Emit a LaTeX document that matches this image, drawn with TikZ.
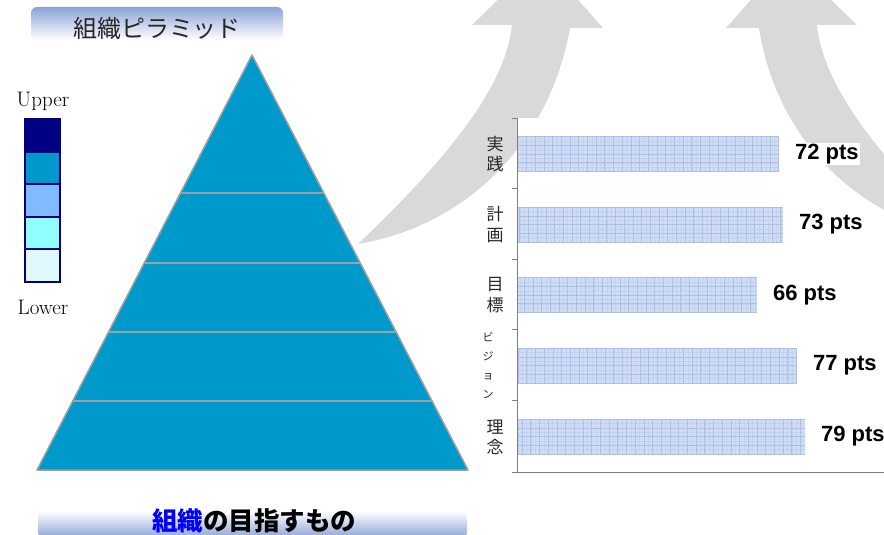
\documentclass[tikz,border=0pt]{standalone}
\usepackage{fontspec}
\newfontfamily\jp{Noto Sans CJK JP}
\newfontfamily\lab{Liberation Sans}
\definecolor{pyr}{RGB}{0,153,204}
\definecolor{pyrline}{RGB}{160,160,160}
\definecolor{agray}{RGB}{217,217,217}
\definecolor{navy}{RGB}{0,0,128}
\definecolor{lg2}{RGB}{128,187,255}
\definecolor{lg3}{RGB}{145,255,255}
\definecolor{lg4}{RGB}{224,248,255}
\definecolor{barfill}{RGB}{208,220,244}
\definecolor{barfine}{RGB}{194,208,240}
\definecolor{barline}{RGB}{170,192,234}
\definecolor{hdr}{RGB}{140,163,214}
\definecolor{axisc}{RGB}{128,128,128}
\begin{document}
\begin{tikzpicture}[x=1pt,y=-1pt,
  legbox/.style={draw=navy,line width=1.2pt},
  legtext/.style={font=\fontsize{21}{24}\selectfont},
  bar/.style={draw=none,fill=barfill,minimum height=35.5pt,inner sep=0pt,anchor=west,
    path picture={
      \draw[barfine,line width=0.25pt,densely dotted] (path picture bounding box.south west) grid[step=4.35pt] (path picture bounding box.north east);
      \draw[barline,line width=0.45pt] (path picture bounding box.south west) grid[step=8.7pt] (path picture bounding box.north east);}},
  cat/.style={font=\jp\fontsize{17}{20.5}\selectfont,align=center,inner sep=0pt,text=black!85},
  catsmall/.style={font=\jp\fontsize{11}{19}\selectfont,align=center,inner sep=0pt,text=black!85},
  val/.style={font=\lab\bfseries\fontsize{22}{24}\selectfont,fill=white,inner sep=1.5pt,anchor=west},
  axisline/.style={draw=axisc,line width=1pt}]
\useasboundingbox (0,0) rectangle (884,535);
\clip (0,0) rectangle (884,535);
% gray curved arrows
\fill[agray] (358,244) .. controls (430,175) and (505,95) .. (512,25) -- (472,25) -- (541,-42) -- (603,28) -- (570,28) .. controls (550,140) and (470,225) .. (358,244) -- cycle;
\fill[agray] (965,240) .. controls (895,172) and (824,95) .. (817,25) -- (857,25) -- (788,-42) -- (726,28) -- (759,28) .. controls (776,135) and (850,215) .. (965,240) -- cycle;
% white plot area
\fill[white] (517,118) rectangle (786,472);
% title box
\shade[top color=hdr,bottom color=white,rounded corners=6pt] (31,7) rectangle (283,40);
\node[font=\jp\fontsize{24}{28}\selectfont,text=black!85] (title) at (157,28) {組織ピラミッド};
% bottom box
\shade[top color=white,bottom color=hdr,rounded corners=6pt] (38,511) rectangle (467,538);
\node[font=\jp\bfseries\fontsize{25.5}{28}\selectfont] (goal) at (254,521) {\textcolor{blue}{組織}の目指すもの};
% pyramid
\fill[pyr] (252,55) -- (468,470) -- (37,470) -- cycle;
\foreach \yy in {193,263,332,401}{
  \pgfmathsetmacro{\dx}{0.52048*(\yy-55)}
  \draw[pyrline,line width=1.5pt] ({252-\dx},\yy) -- ({252+\dx},\yy);
}
\draw[pyrline,line width=1.5pt,line join=round] (252,55) -- (468,470) -- (37,470) -- cycle;
% legend
\node[legtext] (upper) at (43,101) {Upper};
\node[legtext] (lower) at (43,307) {Lower};
\draw[legbox,fill=navy] (25,119) rectangle (60,152);
\draw[legbox,fill=pyr] (25,152) rectangle (60,184);
\draw[legbox,fill=lg2] (25,184) rectangle (60,217);
\draw[legbox,fill=lg3] (25,217) rectangle (60,249);
\draw[legbox,fill=lg4] (25,249) rectangle (60,282);
% bars
\node[bar,minimum width=262pt] (b1) at (517,154) {};
\node[bar,minimum width=266pt] (b2) at (517,224.5) {};
\node[bar,minimum width=240pt] (b3) at (517,295) {};
\node[bar,minimum width=280pt] (b4) at (517,365.5) {};
\node[bar,minimum width=288pt] (b5) at (517,436.5) {};
% axes
\draw[axisline] (517,118) -- (517,472) -- (884,472);
\foreach \yy in {118,188,259,329,400,472}{\draw[axisline] (512,\yy) -- (517,\yy);}
% category labels
\node[cat] (c1) at (495,154) {実\\践};
\node[cat] (c2) at (495,224.5) {計\\画};
\node[cat] (c3) at (495,295) {目\\標};
\node[catsmall] (c4) at (488,366) {ビ\\ジ\\ョ\\ン};
\node[cat] (c5) at (495,437.5) {理\\念};
% value labels
\node[val] (v1) at ([xshift=14pt]b1.east) {72 pts};
\node[val] (v2) at ([xshift=14pt]b2.east) {73 pts};
\node[val] (v3) at ([xshift=14pt]b3.east) {66 pts};
\node[val] (v4) at ([xshift=14pt]b4.east) {77 pts};
\node[val] (v5) at ([xshift=14pt]b5.east) {79 pts};
\end{tikzpicture}
\end{document}
